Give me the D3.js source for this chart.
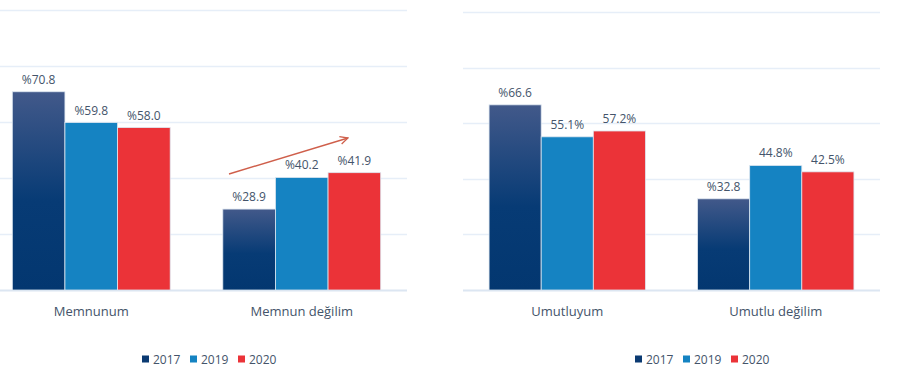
<!DOCTYPE html>
<html>
<head>
<meta charset="utf-8">
<script src="https://cdn.jsdelivr.net/npm/d3@7"></script>
<style>
  body { margin: 0; background: #fff; }
  svg { display: block; font-family: "Open Sans", "DejaVu Sans", sans-serif; }
</style>
</head>
<body>
<div id="chart"></div>
<script>
// data
var years = ["2017", "2019", "2020"];
var leftCats = ["Memnunum", "Memnun değilim"];
var leftValues = [[70.8, 59.8, 58.0], [28.9, 40.2, 41.9]];
var leftLabels = [["%70.8", "%59.8", "%58.0"], ["%28.9", "%40.2", "%41.9"]];
var rightCats = ["Umutluyum", "Umutlu değilim"];
var rightValues = [[66.6, 55.1, 57.2], [32.8, 44.8, 42.5]];
var rightLabels = [["%66.6", "55.1%", "57.2%"], ["%32.8", "44.8%", "42.5%"]];
var yTicks = [0, 20, 40, 60, 80, 100];

var colors = ["url(#grad2017)", "#1583C2", "#EB3338"];
var legendColors = ["#0B3A72", "#1583C2", "#EB3338"];
var textColor = "#44546A";

var width = 900, height = 392;
var svg = d3.select("#chart").append("svg")
	.attr("width", width)
	.attr("height", height);

//gradient for the 2017 bars
var grad = svg.append("defs").append("linearGradient")
	.attr("id", "grad2017")
	.attr("x1", 0).attr("y1", 0).attr("x2", 0).attr("y2", 1);
grad.append("stop").attr("offset", "0%").attr("stop-color", "#42598A");
grad.append("stop").attr("offset", "55%").attr("stop-color", "#073B75");
grad.append("stop").attr("offset", "100%").attr("stop-color", "#033770");

svg.append("defs").append("marker")
	.attr("id", "arrowHead")
	.attr("viewBox", "0 0 10 10")
	.attr("refX", 9).attr("refY", 5)
	.attr("markerWidth", 7).attr("markerHeight", 7)
	.attr("orient", "auto")
	.append("path")
	.attr("d", "M1,1 L9,5 L1,9")
	.attr("fill", "none")
	.attr("stroke", "#CF5F4B")
	.attr("stroke-width", 1.3);

//draws one grouped bar panel
function drawPanel(cats, values, labels, x0, x1, yTop, yBase, legendX)
{
	var g = svg.append("g");

	var y = d3.scaleLinear().domain([0, 100]).range([yBase, yTop]);
	var x = d3.scaleBand().domain(cats).range([x0, x1])
		.paddingInner(0.25).paddingOuter(0.125);
	var xs = d3.scaleBand().domain(years).range([0, x.bandwidth()]);

	//gridlines
	g.selectAll(".grid").data(yTicks).enter().append("line")
		.attr("x1", Math.max(x0, 0)).attr("x2", x1)
		.attr("y1", function(d) { return Math.round(y(d)) + 0.5; })
		.attr("y2", function(d) { return Math.round(y(d)) + 0.5; })
		.attr("stroke", function(d) { return d == 0 ? "#DCE6F2" : "#E6EEF8"; })
		.attr("stroke-width", function(d) { return d == 0 ? 2 : 1.5; });

	cats.forEach(function(cat, i)
	{
		var grp = g.append("g").attr("transform", "translate(" + x(cat) + ",0)");
		years.forEach(function(yr, j)
		{
			grp.append("rect")
				.attr("x", xs(yr))
				.attr("y", y(values[i][j]))
				.attr("width", xs.bandwidth())
				.attr("height", yBase - y(values[i][j]))
				.attr("fill", colors[j])
				.attr("stroke", "#DDE6F0")
				.attr("stroke-width", 0.8);

			grp.append("text")
				.attr("x", xs(yr) + xs.bandwidth() / 2)
				.attr("y", y(values[i][j]) - 8)
				.attr("text-anchor", "middle")
				.attr("font-size", 12)
				.attr("fill", textColor)
				.text(labels[i][j]);
		});

		g.append("text")
			.attr("x", x(cat) + x.bandwidth() / 2)
			.attr("y", yBase + 26)
			.attr("text-anchor", "middle")
			.attr("font-size", 13)
			.attr("fill", textColor)
			.text(cat);
	});

	//legend
	var legend = g.append("g").attr("transform", "translate(" + legendX + "," + (yBase + 70) + ")");
	var lx = 0;
	years.forEach(function(yr, j)
	{
		legend.append("rect")
			.attr("x", lx).attr("y", -4.5)
			.attr("width", 7).attr("height", 7)
			.attr("fill", legendColors[j]);
		legend.append("text")
			.attr("x", lx + 11).attr("y", 4)
			.attr("font-size", 12)
			.attr("fill", textColor)
			.text(yr);
		lx += 48;
	});

	return { x: x, y: y };
}

drawPanel(leftCats, leftValues, leftLabels, -14, 407, 10, 290, 142);
drawPanel(rightCats, rightValues, rightLabels, 463, 880, 12, 290, 635);

//trend arrow over "Memnun değilim"
svg.append("line")
	.attr("x1", 229).attr("y1", 174)
	.attr("x2", 348).attr("y2", 138)
	.attr("stroke", "#CF5F4B")
	.attr("stroke-width", 1.4)
	.attr("marker-end", "url(#arrowHead)");
</script>
</body>
</html>
